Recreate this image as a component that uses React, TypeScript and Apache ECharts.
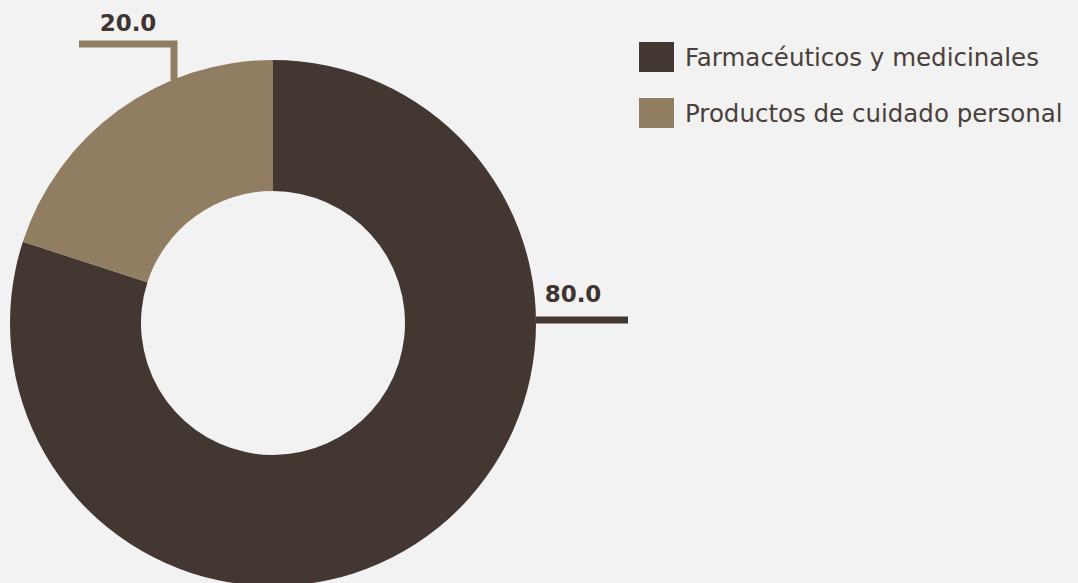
import React, { useEffect, useRef } from "react";
import * as echarts from "echarts";

const categories = ["Farmacéuticos y medicinales", "Productos de cuidado personal"];
const values = [80.0, 20.0];
const colors = ["#433731", "#917e62"];

export default function App() {
  const ref = useRef<HTMLDivElement>(null);
  useEffect(() => {
    document.body.style.margin = "0";
    const chart = echarts.init(ref.current!, null, { renderer: "svg" });
    const font = "DejaVu Sans";
    chart.setOption({
      animation: false,
      backgroundColor: "#f2f2f2",
      color: colors,
      legend: {
        orient: "vertical",
        left: 634,
        top: 37,
        itemWidth: 35,
        itemHeight: 30,
        itemGap: 26,
        icon: "rect",
        data: categories,
        textStyle: {
          fontFamily: font,
          fontSize: 24.5,
          color: "#4a403b",
          padding: [0, 0, 0, 6],
        },
      },
      series: [
        {
          type: "pie",
          center: [273, 323],
          radius: [132, 263],
          startAngle: 90,
          clockwise: true,
          data: categories.map((c, i) => ({ name: c, value: values[i] })),
          label: {
            show: true,
            formatter: (p: any) => p.value.toFixed(1),
            fontFamily: font,
            fontWeight: "bold",
            fontSize: 23,
            color: "#3f342f",
          },
          labelLine: {
            show: true,
            lineStyle: { width: 7 },
          },
          labelLayout: (params: any) => {
            if (params.dataIndex === 0) {
              return {
                x: 573,
                y: 294,
                align: "center",
                verticalAlign: "middle",
                labelLinePoints: [[536, 320], [582, 320], [628, 320]],
              };
            }
            return {
              x: 128,
              y: 23,
              align: "center",
              verticalAlign: "middle",
              labelLinePoints: [[174, 80], [174, 44], [79, 44]],
            };
          },
          emphasis: { disabled: true },
        },
      ],
    });
    return () => chart.dispose();
  }, []);
  return <div ref={ref} style={{ width: 1078, height: 583 }} />;
}
